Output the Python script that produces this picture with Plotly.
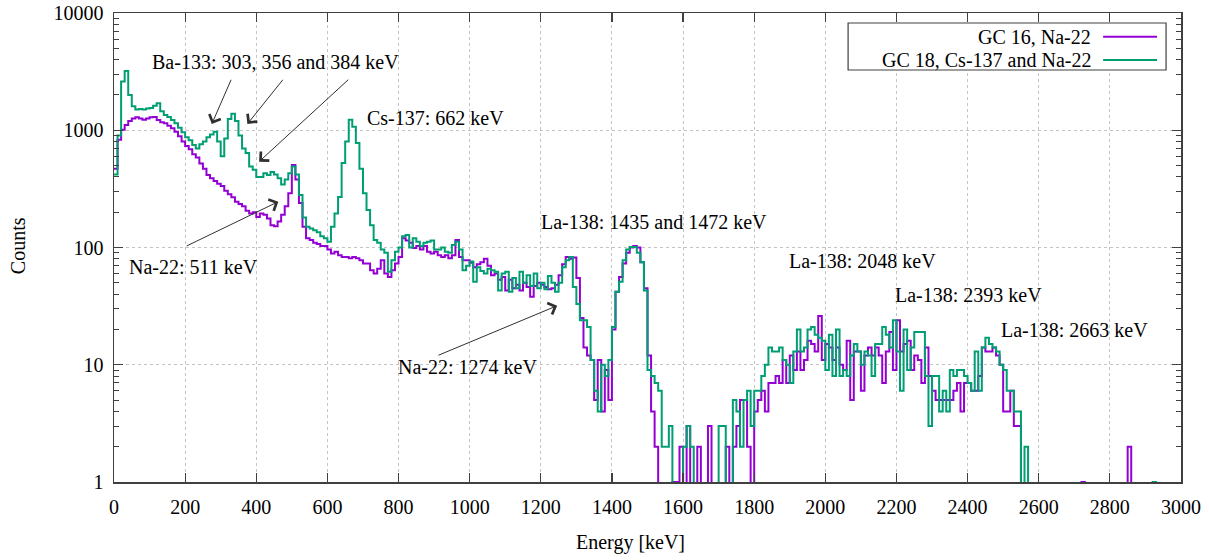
import numpy as np
import plotly.graph_objects as go

# ---------------- data (10 keV bins, counts) ----------------
bin_start_kev = list(range(0, 3000, 10))

gc16_na22_counts = [
    470, 830, 1010, 1110, 1200, 1260, 1290, 1260, 1230, 1260,
    1290, 1300, 1220, 1170, 1150, 1090, 1040, 970, 890, 800,
    735, 690, 625, 585, 520, 470, 415, 390, 370, 350,
    335, 305, 285, 268, 245, 235, 225, 206, 195, 200,
    182, 195, 190, 177, 155, 152, 167, 190, 225, 290,
    505, 380, 240, 150, 120, 116, 110, 107, 103, 103,
    96, 89, 92, 86, 83, 83, 81, 83, 81, 78,
    73, 73, 64, 60, 66, 78, 60, 56, 64, 73,
    83, 120, 115, 110, 99, 103, 96, 103, 92, 89,
    92, 86, 83, 86, 81, 86, 116, 83, 78, 78,
    74, 68, 72, 75, 80, 70, 58, 60, 53, 56,
    43, 53, 45, 48, 43, 50, 46, 38, 47, 50,
    48, 46, 44, 45, 48, 58, 72, 83, 80, 82,
    55, 25, 14, 12, 11, 5, 11, 4, 9, 5,
    20, 42, 56, 73, 90, 100, 103, 100, 75, 45,
    12, 4, 2, 0, 0, 0, 0, 1, 1, 2,
    0, 3, 0, 0, 2, 0, 0, 3, 0, 0,
    0, 0, 2, 0, 2, 3, 5, 5, 2, 0,
    4, 5, 6, 4, 7, 7, 8, 7, 11, 7,
    12, 9, 13, 9, 11, 16, 15, 13, 26, 11,
    15, 14, 11, 14, 10, 9, 16, 5, 13, 13,
    6, 12, 14, 12, 14, 12, 7, 13, 19, 9,
    24, 13, 15, 16, 9, 12, 11, 7, 14, 8,
    6, 5, 5, 5, 5, 5, 6, 7, 4, 7,
    7, 6, 6, 8, 14, 13, 13, 14, 12, 10,
    4, 4, 6, 3, 3, 0, 0, 0, 0, 0,
    0, 0, 0, 0, 0, 0, 0, 0, 0, 0,
    0, 0, 1, 0, 0, 0, 0, 0, 0, 0,
    0, 0, 0, 0, 0, 2, 0, 0, 0, 0,
    0, 0, 0, 0, 0, 0, 0, 0, 0, 0,
]

gc18_cs137_na22_counts = [
    420, 900, 2600, 3200, 2000, 1600, 1500, 1520, 1500, 1530,
    1550, 1620, 1700, 1450, 1350, 1300, 1220, 1150, 1050, 960,
    870, 820, 750, 700, 760, 800, 870, 920, 970, 800,
    600, 850, 1250, 1380, 1200, 900, 700, 640, 490, 460,
    400, 400, 430, 415, 440, 420, 390, 345, 380, 430,
    490, 420, 280, 180, 150, 145, 140, 135, 125, 120,
    112, 150, 195, 270, 525, 800, 1230, 1070, 780, 470,
    290, 209, 155, 116, 110, 96, 90, 62, 78, 92,
    100, 125, 128, 100, 120, 112, 103, 110, 112, 115,
    96, 96, 100, 92, 90, 105, 112, 96, 64, 70,
    76, 51, 68, 63, 60, 66, 64, 62, 43, 60,
    62, 42, 55, 45, 62, 50, 58, 47, 60, 45,
    50, 44, 57, 50, 42, 50, 68, 78, 83, 46,
    33, 24, 24, 21, 11, 6, 4, 10, 8, 11,
    21, 42, 51, 78, 96, 101, 101, 90, 75, 43,
    9, 8, 7, 6, 2, 2, 3, 0, 0, 0,
    2, 3, 2, 0, 0, 0, 0, 0, 0, 0,
    3, 3, 0, 0, 5, 4, 2, 5, 6, 3,
    6, 6, 8, 10, 14, 13, 13, 14, 11, 10,
    7, 13, 20, 13, 14, 20, 21, 18, 17, 16,
    9, 18, 8, 20, 8, 9, 8, 12, 15, 13,
    10, 13, 12, 8, 15, 15, 21, 18, 14, 24,
    13, 6, 20, 9, 14, 19, 19, 19, 8, 3,
    8, 8, 4, 6, 4, 9, 8, 9, 9, 8,
    7, 6, 13, 6, 14, 17, 15, 14, 13, 10,
    9, 6, 6, 4, 4, 0, 2, 0, 0, 0,
    0, 0, 0, 0, 0, 0, 0, 0, 0, 0,
    0, 0, 0, 0, 0, 0, 0, 0, 0, 0,
    0, 0, 0, 0, 0, 0, 0, 0, 0, 0,
    0, 0, 1, 0, 0, 0, 0, 0, 0, 0,
]

series_names = ["GC 16, Na-22", "GC 18, Cs-137 and Na-22"]
series_colors = ["#9400d3", "#009e73"]

x_tick_values = list(range(0, 3001, 200))
y_tick_values = [1, 10, 100, 1000, 10000]
y_tick_labels = ["1", "10", "100", "1000", "10000"]
y_minor_values = [m * 10 ** d for d in range(4) for m in range(2, 10)]

# peak labels: (text, energy keV, counts)
peak_labels = [
    ("Ba-133: 303, 356 and 384 keV", 101, 3820),
    ("Cs-137: 662 keV", 706, 1265),
    ("Na-22: 511 keV", 36, 68.5),
    ("La-138: 1435 and 1472 keV", 1196, 166),
    ("Na-22: 1274 keV", 793, 9.6),
    ("La-138: 2048 keV", 1893, 76.7),
    ("La-138: 2393 keV", 2191, 39.4),
    ("La-138: 2663 keV", 2489, 19.8),
]
# arrows: (tail energy, tail counts, head energy, head counts)
peak_arrows = [
    (331, 2773, 275, 1130),
    (478, 2773, 375, 1130),
    (663, 2773, 408, 540),
    (200, 101.6, 462, 246),
    (908, 11.9, 1246, 31.9),
]

FLOOR = 0.5  # empty bins are drawn below the axis floor (log scale cannot show 0)

def step_xy(counts):
    xs = list(bin_start_kev) + [3000]
    ys = [c if c > 0 else FLOOR for c in counts]
    ys = ys + [ys[-1]]
    return xs, ys

fig = go.Figure()
for name, counts, col in zip(series_names, [gc16_na22_counts, gc18_cs137_na22_counts], series_colors):
    xs, ys = step_xy(counts)
    fig.add_trace(go.Scatter(x=xs, y=ys, mode="lines", name=name,
                             line=dict(color=col, width=2, shape="hv"),
                             showlegend=False, hoverinfo="skip"))

FONT = "Liberation Serif"
axis_col = "#404040"
grid_col = "#c4c4c4"

fig.update_layout(
    width=1209, height=560,
    margin=dict(l=114, r=28, t=13, b=78, autoexpand=False),
    paper_bgcolor="white", plot_bgcolor="white",
    font=dict(family=FONT, size=20, color="black"),
    xaxis=dict(range=[0, 3000], tickmode="array", tickvals=x_tick_values,
               ticks="inside", ticklen=9, tickwidth=1.2, tickcolor=axis_col,
               showline=True, linecolor=axis_col, linewidth=1.5, mirror="ticks",
               showgrid=True, gridcolor=grid_col, griddash="dot", gridwidth=1,
               zeroline=False, ticklabelstandoff=6, automargin=False,
               ticklabeloverflow="allow",
               tickfont=dict(family=FONT, size=20, color="black")),
    yaxis=dict(type="log", range=[0, 4], tickmode="array", tickvals=y_tick_values,
               ticktext=y_tick_labels,
               ticks="inside", ticklen=9, tickwidth=1.2, tickcolor=axis_col,
               showline=True, linecolor=axis_col, linewidth=1.5, mirror="ticks",
               showgrid=True, gridcolor=grid_col, griddash="dot", gridwidth=1,
               zeroline=False, ticklabelstandoff=5, automargin=False,
               ticklabeloverflow="allow",
               minor=dict(tickmode="array", tickvals=y_minor_values, ticks="inside",
                          ticklen=5, tickwidth=1, tickcolor=axis_col, showgrid=False),
               tickfont=dict(family=FONT, size=20, color="black")),
)

annotations = []
for text, e, c in peak_labels:
    annotations.append(dict(x=e, y=np.log10(c), xref="x", yref="y", text=text,
                            showarrow=False, xanchor="left", yanchor="middle",
                            font=dict(family=FONT, size=20, color="black")))
for te, tc, he, hc in peak_arrows:
    annotations.append(dict(x=he, y=np.log10(hc), ax=te, ay=np.log10(tc),
                            xref="x", yref="y", axref="x", ayref="y", text="",
                            showarrow=True, arrowhead=4, arrowsize=2.4, arrowwidth=1,
                            arrowcolor="#303030", standoff=0, startstandoff=0))
# axis titles
annotations.append(dict(x=0.4845, y=-0.13, xref="paper", yref="paper", text="Energy [keV]",
                        showarrow=False, xanchor="center", yanchor="middle",
                        font=dict(family=FONT, size=20, color="black")))
annotations.append(dict(x=-0.09, y=0.505, xref="paper", yref="paper", text="Counts",
                        showarrow=False, xanchor="center", yanchor="middle", textangle=-90,
                        font=dict(family=FONT, size=20, color="black")))

# legend (gnuplot style: text right-aligned, sample on the right)
shapes = [dict(type="rect", xref="paper", yref="paper", x0=0.688, x1=0.986, y0=0.8785, y1=0.9787,
               line=dict(color=axis_col, width=1.2), fillcolor="white", layer="above")]
legend_rows_y = [0.9495, 0.8998]
for name, col, ly in zip(series_names, series_colors, legend_rows_y):
    annotations.append(dict(x=0.9175, y=ly, xref="paper", yref="paper", text=name,
                            showarrow=False, xanchor="right", yanchor="middle",
                            font=dict(family=FONT, size=20, color="black")))
    shapes.append(dict(type="line", xref="paper", yref="paper", x0=0.927, x1=0.9775,
                       y0=ly, y1=ly, line=dict(color=col, width=2), layer="above"))

fig.update_layout(annotations=annotations, shapes=shapes)
fig.write_html("out.html", config={"displayModeBar": False, "staticPlot": True},
               post_script="document.body.style.margin='0';document.body.style.overflow='hidden';")
